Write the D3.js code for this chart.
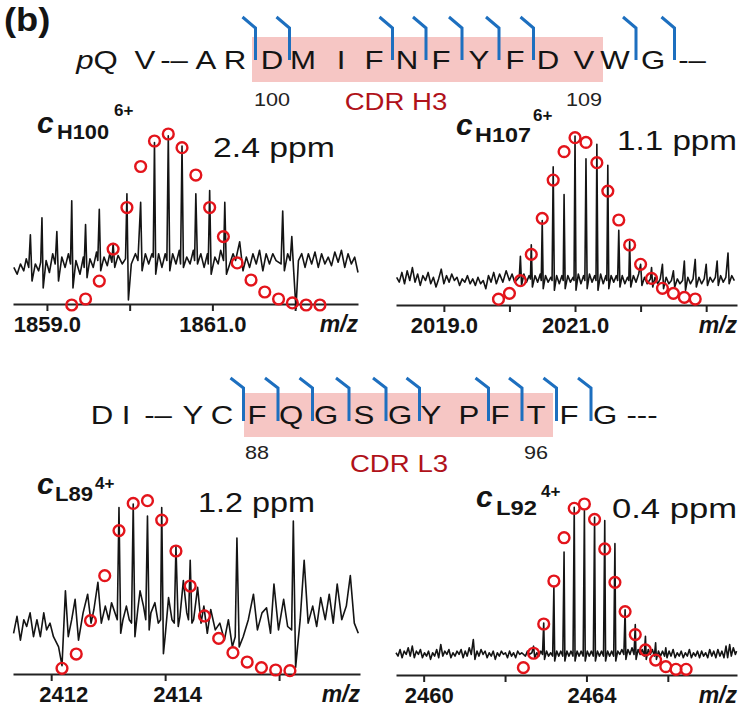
<!DOCTYPE html>
<html>
<head>
<meta charset="utf-8">
<title>Isotope fits of c fragments in CDR H3 / L3</title>
<script src="https://d3js.org/d3.v7.min.js"></script>
<style>
  body { margin: 0; background: #fff; }
  svg text { font-family: "Liberation Sans", Arial, sans-serif; }
</style>
</head>
<body>
<svg id="fig" width="747" height="711"></svg>
<script>
// ---------- sequences ----------
const seqH3 = ["pQ", "V", "-–", "A", "R", "D", "M", "I", "F", "N", "F", "Y", "F", "D", "V", "W", "G", "-–"];
const cutsH3 = [4, 5, 8, 9, 10, 11, 12, 15, 16];
const cdrH3 = [5, 14];
const numsH3 = [[5, "100"], [14, "109"]];

const seqL3 = ["D", "I", "-–", "Y", "C", "F", "Q", "G", "S", "G", "Y", "P", "F", "T", "F", "G", "---"];
const cutsL3 = [4, 5, 6, 7, 8, 9, 11, 12, 13, 14];
const cdrL3 = [5, 13];
const numsL3 = [[5, "88"], [13, "96"]];

// ---------- cH100 6+ ----------
const h100Domain = [1858.59, 1862.76];
const h100Ticks = [1859, 1860, 1861, 1862];
const h100Labelled = [1859, 1861];
const h100IsoMz = [1859.300, 1859.467, 1859.633, 1859.800, 1859.967, 1860.133, 1860.300, 1860.467, 1860.633, 1860.800,
  1860.967, 1861.133, 1861.300, 1861.467, 1861.633, 1861.800, 1861.967, 1862.133, 1862.300];
const h100IsoAb = [0, 3.5, 14, 32.7, 57, 81, 95.9, 100, 92, 76, 57, 40, 24.6, 14.6, 7.6, 3.5, 1.2, 0, 0];
const h100Spec = [
  [1858.60, 22], [1858.64, 18], [1858.68, 24], [1858.72, 20], [1858.75, 27], [1858.78, 22], [1858.80, 41], [1858.82, 14],
  [1858.86, 24], [1858.90, 20], [1858.925, 25], [1858.94, 51], [1858.955, 10], [1858.99, 26], [1859.03, 19], [1859.07, 30],
  [1859.10, 24], [1859.12, 43], [1859.14, 14], [1859.18, 28], [1859.22, 22], [1859.26, 30], [1859.285, 24], [1859.30, 61],
  [1859.315, 10], [1859.35, 26], [1859.40, 18], [1859.44, 28], [1859.45, 22], [1859.467, 47], [1859.485, 16], [1859.52, 27],
  [1859.56, 22], [1859.60, 31], [1859.615, 26], [1859.633, 56], [1859.65, 20], [1859.69, 28], [1859.73, 23], [1859.76, 30],
  [1859.785, 25], [1859.80, 36], [1859.82, 22], [1859.86, 29], [1859.91, 24], [1859.95, 27], [1859.967, 65], [1859.985, 3],
  [1860.02, 24], [1860.07, 30], [1860.10, 26], [1860.133, 60], [1860.15, 20], [1860.19, 30], [1860.23, 24], [1860.27, 30],
  [1860.285, 28], [1860.30, 95], [1860.315, 18], [1860.35, 30], [1860.39, 22], [1860.43, 30], [1860.45, 26], [1860.467, 99],
  [1860.485, 20], [1860.52, 30], [1860.56, 24], [1860.60, 32], [1860.615, 24], [1860.633, 93], [1860.65, 22], [1860.69, 28],
  [1860.73, 24], [1860.77, 32], [1860.785, 26], [1860.80, 65], [1860.82, 24], [1860.86, 30], [1860.90, 22], [1860.94, 30],
  [1860.95, 24], [1860.967, 67], [1860.985, 18], [1861.03, 28], [1861.07, 24], [1861.10, 32], [1861.135, 26], [1861.15, 60],
  [1861.17, 18], [1861.21, 24], [1861.25, 30], [1861.28, 26], [1861.33, 37], [1861.37, 20], [1861.41, 28], [1861.45, 22],
  [1861.49, 30], [1861.53, 24], [1861.57, 32], [1861.61, 20], [1861.65, 30], [1861.69, 24], [1861.73, 30], [1861.77, 26],
  [1861.83, 24], [1861.85, 55], [1861.87, 20], [1861.91, 30], [1861.94, 26], [1861.96, 40], [1861.98, 22], [1862.01, -2],
  [1862.04, 26], [1862.08, 30], [1862.12, 22], [1862.16, 30], [1862.20, 24], [1862.24, 31], [1862.28, 22], [1862.32, 30],
  [1862.36, 24], [1862.40, 28], [1862.44, 23], [1862.48, 31], [1862.52, 25], [1862.56, 32], [1862.60, 22], [1862.64, 30],
  [1862.68, 24], [1862.72, 28], [1862.76, 19]
];

// ---------- cH107 6+ ----------
const h107Domain = [2018.27, 2023.47];
const h107Ticks = [2019, 2020, 2021, 2022, 2023];
const h107Labelled = [2019, 2021];
const h107IsoMz = [2019.833, 2020.000, 2020.167, 2020.333, 2020.500, 2020.667, 2020.833, 2021.000, 2021.167, 2021.333,
  2021.500, 2021.667, 2021.833, 2022.000, 2022.167, 2022.333, 2022.500, 2022.667, 2022.833];
const h107IsoAb = [0.5, 4.1, 11.9, 28.1, 50.3, 73.9, 91.4, 100, 97.1, 84.6, 67.1, 49.3, 33.9, 22, 13.3, 7.2, 4.1, 1.6, 0.6];
const h107Spec = [
  [2018.28, 14], [2018.32, 11], [2018.36, 17], [2018.40, 10], [2018.44, 18], [2018.48, 12], [2018.52, 20], [2018.56, 11],
  [2018.60, 16], [2018.64, 9], [2018.68, 15], [2018.72, 12], [2018.76, 17], [2018.80, 10], [2018.84, 14], [2018.88, 8],
  [2018.92, 13], [2018.96, 19], [2019.00, 10], [2019.04, 15], [2019.08, 11], [2019.12, 16], [2019.16, 12], [2019.20, 14],
  [2019.24, 9], [2019.28, 13], [2019.32, 11], [2019.36, 15], [2019.40, 10], [2019.44, 13], [2019.48, 9], [2019.52, 14],
  [2019.56, 10], [2019.60, 12], [2019.64, 7], [2019.68, 15], [2019.72, 11], [2019.76, 17], [2019.80, 10], [2019.85, 16],
  [2019.90, 11], [2019.95, 18], [2020.00, 12], [2020.04, 16], [2020.08, 11], [2020.15, 14], [2020.167, 27], [2020.185, 9],
  [2020.22, 16], [2020.26, 11], [2020.30, 15], [2020.32, 13], [2020.333, 34], [2020.35, 8], [2020.39, 15], [2020.43, 11],
  [2020.47, 16], [2020.485, 12], [2020.500, 49], [2020.515, 7], [2020.55, 15], [2020.59, 11], [2020.63, 14], [2020.65, 12],
  [2020.667, 82], [2020.685, 6], [2020.72, 15], [2020.76, 10], [2020.80, 15], [2020.82, 12], [2020.833, 65], [2020.85, 7],
  [2020.89, 15], [2020.93, 11], [2020.97, 14], [2020.985, 12], [2021.000, 101], [2021.015, 6], [2021.05, 16], [2021.09, 10],
  [2021.13, 15], [2021.15, 12], [2021.167, 87], [2021.185, 7], [2021.22, 16], [2021.26, 11], [2021.30, 15], [2021.32, 12],
  [2021.333, 96], [2021.35, 6], [2021.39, 16], [2021.43, 10], [2021.47, 15], [2021.485, 12], [2021.500, 83], [2021.515, 7],
  [2021.55, 15], [2021.59, 11], [2021.63, 15], [2021.65, 12], [2021.667, 43], [2021.685, 8], [2021.72, 15], [2021.76, 10],
  [2021.80, 14], [2021.82, 12], [2021.833, 36], [2021.85, 8], [2021.89, 15], [2021.93, 11], [2021.97, 16], [2022.000, 22],
  [2022.02, 9], [2022.06, 14], [2022.10, 10], [2022.15, 13], [2022.167, 20], [2022.185, 8], [2022.22, 14], [2022.26, 10],
  [2022.30, 13], [2022.333, 22], [2022.35, 7], [2022.39, 14], [2022.43, 10], [2022.47, 12], [2022.500, 18], [2022.52, 8],
  [2022.56, 13], [2022.60, 10], [2022.64, 12], [2022.667, 24], [2022.685, 6], [2022.72, 14], [2022.76, 10], [2022.80, 13],
  [2022.833, 25], [2022.85, 8], [2022.89, 14], [2022.93, 10], [2022.97, 13], [2023.000, 22], [2023.02, 9], [2023.06, 14],
  [2023.10, 11], [2023.14, 14], [2023.167, 24], [2023.185, 9], [2023.22, 15], [2023.26, 11], [2023.30, 14], [2023.333, 29],
  [2023.35, 10], [2023.39, 15], [2023.43, 12]
];

// ---------- cL89 4+ ----------
const l89Domain = [2411.33, 2417.42];
const l89Ticks = [2412, 2414, 2416];
const l89Labelled = [2412, 2414];
const l89IsoMz = [2412.19, 2412.44, 2412.69, 2412.94, 2413.19, 2413.44, 2413.69, 2413.94, 2414.19, 2414.44,
  2414.69, 2414.94, 2415.19, 2415.44, 2415.69, 2415.94, 2416.19];
const l89IsoAb = [1.4, 9.8, 29.4, 55.9, 82.4, 98.4, 100, 88.6, 70.4, 49.8, 32.2, 19, 10.6, 5.1, 1.8, 0.4, 0];
const l89Spec = [
  [2411.34, 22], [2411.40, 32], [2411.46, 18], [2411.52, 30], [2411.57, 26], [2411.63, 34], [2411.69, 20], [2411.75, 30],
  [2411.81, 20], [2411.87, 34], [2411.92, 24], [2411.98, 28], [2412.04, 20], [2412.13, 14], [2412.19, 3], [2412.25, 47],
  [2412.30, 20], [2412.36, 30], [2412.42, 42], [2412.48, 18], [2412.56, 34], [2412.64, 45], [2412.70, 28], [2412.75, 36],
  [2412.82, 52], [2412.88, 28], [2412.95, 38], [2413.01, 30], [2413.06, 40], [2413.12, 34], [2413.16, 30], [2413.19, 96],
  [2413.22, 22], [2413.26, 30], [2413.32, 38], [2413.37, 30], [2413.41, 28], [2413.44, 98], [2413.47, 20], [2413.52, 36],
  [2413.56, 47], [2413.62, 38], [2413.66, 30], [2413.69, 91], [2413.72, 24], [2413.75, 34], [2413.82, 40], [2413.88, 28],
  [2413.92, 30], [2413.94, 96], [2413.97, 10], [2414.00, 20], [2414.06, 43], [2414.12, 30], [2414.16, 28], [2414.19, 73],
  [2414.23, 26], [2414.26, 32], [2414.32, 53], [2414.38, 34], [2414.41, 30], [2414.44, 65], [2414.47, 28], [2414.50, 30],
  [2414.57, 49], [2414.63, 28], [2414.68, 38], [2414.74, 22], [2414.80, 36], [2414.88, 24], [2414.96, 28], [2415.04, 18],
  [2415.11, 30], [2415.18, 14], [2415.23, 20], [2415.26, 78], [2415.30, 14], [2415.37, 20], [2415.46, 30], [2415.55, 45],
  [2415.62, 24], [2415.70, 34], [2415.78, 37], [2415.85, 22], [2415.91, 51], [2415.99, 24], [2416.08, 42], [2416.15, 26],
  [2416.22, 24], [2416.25, 88], [2416.29, 2], [2416.37, 30], [2416.44, 65], [2416.51, 28], [2416.59, 38], [2416.66, 26],
  [2416.73, 43], [2416.81, 30], [2416.88, 45], [2416.95, 28], [2417.02, 51], [2417.10, 30], [2417.18, 38], [2417.25, 56],
  [2417.32, 28], [2417.39, 22]
];

// ---------- cL92 4+ ----------
const l92Domain = [2459.32, 2467.70];
const l92Ticks = [2460, 2462, 2464, 2466];
const l92Labelled = [2460, 2464];
const l92IsoMz = [2462.45, 2462.70, 2462.95, 2463.20, 2463.45, 2463.70, 2463.95, 2464.20, 2464.45, 2464.70,
  2464.95, 2465.20, 2465.45, 2465.70, 2465.95, 2466.20, 2466.45];
const l92IsoAb = [1, 9.7, 27.4, 53.4, 79.6, 97.4, 100, 90.7, 72.8, 52.6, 34.9, 21, 11.7, 5.6, 1.6, 0, 0];
const l92Spec = [
  [2459.32, 10], [2459.37, 8], [2459.42, 12], [2459.47, 7], [2459.52, 11], [2459.57, 9], [2459.62, 13], [2459.67, 8],
  [2459.72, 14], [2459.77, 7], [2459.82, 11], [2459.87, 9], [2459.92, 12], [2459.97, 7], [2460.02, 10], [2460.07, 8],
  [2460.12, 11], [2460.17, 6], [2460.22, 10], [2460.27, 8], [2460.32, 12], [2460.37, 7], [2460.42, 15], [2460.47, 8],
  [2460.52, 11], [2460.57, 9], [2460.62, 12], [2460.67, 7], [2460.72, 10], [2460.77, 8], [2460.82, 11], [2460.87, 9],
  [2460.92, 12], [2460.97, 7], [2461.02, 11], [2461.07, 8], [2461.12, 13], [2461.17, 9], [2461.22, 18], [2461.26, 6],
  [2461.31, 11], [2461.36, 8], [2461.41, 12], [2461.46, 9], [2461.51, 11], [2461.56, 7], [2461.61, 10], [2461.66, 8],
  [2461.71, 11], [2461.76, 6], [2461.81, 10], [2461.86, 8], [2461.91, 11], [2461.96, 9], [2462.01, 10], [2462.06, 7],
  [2462.11, 11], [2462.16, 8], [2462.21, 10], [2462.26, 7], [2462.31, 11], [2462.36, 9], [2462.41, 10], [2462.50, 8],
  [2462.55, 11], [2462.60, 9], [2462.66, 10], [2462.70, 14], [2462.73, 7], [2462.78, 10], [2462.83, 8], [2462.88, 11],
  [2462.92, 9], [2462.95, 28], [2462.97, 6], [2463.02, 11], [2463.07, 8], [2463.12, 10], [2463.17, 8], [2463.20, 50],
  [2463.22, 5], [2463.27, 11], [2463.32, 8], [2463.37, 11], [2463.42, 8], [2463.45, 71], [2463.47, 5], [2463.52, 11],
  [2463.57, 8], [2463.62, 11], [2463.67, 8], [2463.70, 98], [2463.72, 5], [2463.77, 11], [2463.82, 8], [2463.87, 11],
  [2463.92, 8], [2463.95, 96], [2463.97, 5], [2464.02, 11], [2464.07, 8], [2464.12, 11], [2464.17, 8], [2464.20, 92],
  [2464.22, 5], [2464.27, 11], [2464.32, 8], [2464.37, 11], [2464.42, 8], [2464.45, 90], [2464.47, 5], [2464.52, 11],
  [2464.57, 8], [2464.62, 11], [2464.67, 8], [2464.70, 76], [2464.72, 5], [2464.77, 11], [2464.82, 9], [2464.87, 12],
  [2464.92, 9], [2464.95, 36], [2464.97, 6], [2465.02, 12], [2465.07, 9], [2465.12, 13], [2465.17, 9], [2465.20, 27],
  [2465.22, 6], [2465.27, 12], [2465.32, 9], [2465.37, 12], [2465.42, 8], [2465.45, 20], [2465.47, 6], [2465.52, 12],
  [2465.57, 9], [2465.62, 12], [2465.67, 8], [2465.70, 16], [2465.72, 6], [2465.77, 11], [2465.82, 8], [2465.87, 11],
  [2465.92, 8], [2465.95, 13], [2465.98, 7], [2466.03, 11], [2466.08, 8], [2466.13, 12], [2466.18, 7], [2466.23, 10],
  [2466.28, 8], [2466.33, 11], [2466.38, 7], [2466.43, 10], [2466.48, 8], [2466.53, 12], [2466.58, 7], [2466.63, 10],
  [2466.68, 8], [2466.73, 11], [2466.78, 7], [2466.83, 11], [2466.88, 8], [2466.93, 10], [2466.98, 7], [2467.03, 12],
  [2467.08, 8], [2467.13, 11], [2467.18, 7], [2467.23, 12], [2467.28, 8], [2467.33, 11], [2467.38, 7], [2467.43, 14],
  [2467.47, 7], [2467.52, 15], [2467.56, 8], [2467.61, 13], [2467.66, 9], [2467.69, 11]
];

// ---------- layout ----------
const RED = "#e3141b", BLUE = "#1d6fbf", PINK = "#f6c6c4", DARKRED = "#b0121a", INK = "#141414";
const svg = d3.select("#fig");
svg.append("rect").attr("width", 747).attr("height", 711).attr("fill", "#fff");

// horizontally stretched text helper
function stext(x, y, str, size, o = {}) {
  return svg.append("text")
    .attr("transform", `translate(${x},${y}) scale(${o.sx || 1},1)`)
    .attr("text-anchor", o.anchor || "middle")
    .attr("font-size", size)
    .attr("font-weight", o.weight || "normal")
    .attr("font-style", o.style || "normal")
    .attr("font-family", o.family || null)
    .attr("fill", o.fill || INK)
    .text(str);
}

stext(4, 31, "(b)", 33, { anchor: "start", weight: "bold", sx: 1.1 });

function drawSequence(seq, xs, cuts, cdr, nums, cdrLabel, L) {
  // CDR box
  svg.append("rect")
    .attr("x", xs[cdr[0]] - L.padL).attr("y", L.boxTop)
    .attr("width", xs[cdr[1]] - xs[cdr[0]] + L.padL + L.padR)
    .attr("height", L.boxBottom - L.boxTop)
    .attr("fill", PINK);
  // residues
  seq.forEach((r, i) => {
    const t = stext(xs[i], L.base, "", 26, { sx: 1.2 });
    if (r === "pQ") {
      t.append("tspan").attr("font-style", "italic").text("p");
      t.append("tspan").text("Q");
    } else t.text(r);
  });
  // cleavage markers
  cuts.forEach(i => {
    const xm = (xs[i] + xs[i + 1]) / 2 + L.cutDx;
    svg.append("path")
      .attr("d", `M${xm - 13},${L.mTop}L${xm},${L.mBend}L${xm},${L.mBottom}`)
      .attr("fill", "none").attr("stroke", BLUE).attr("stroke-width", 3);
  });
  nums.forEach(([i, s]) => stext(xs[i], L.numBase, s, 18,
    { sx: 1.2, family: "'Liberation Serif', 'Times New Roman', serif", fill: "#222" }));
  stext(L.cdrX, L.cdrBase, cdrLabel, 24, { sx: 1.15, fill: DARKRED });
}

drawSequence(seqH3,
  [97, 145, 174, 206, 235, 272, 303, 341, 374, 407, 441, 479, 515, 548, 584, 615, 653, 692],
  cutsH3, cdrH3, numsH3, "CDR H3",
  { base: 69, boxTop: 37, boxBottom: 82, padL: 20, padR: 19, mTop: 17, mBend: 28, mBottom: 60, cutDx: 2,
    numBase: 106, cdrX: 396, cdrBase: 110 });

drawSequence(seqL3,
  [102, 126, 158, 193, 222, 257, 291, 326, 364, 400, 431, 469, 500, 536, 569, 605, 642],
  cutsL3, cdrL3, numsL3, "CDR L3",
  { base: 424, boxTop: 393, boxBottom: 437, padL: 13, padR: 17, mTop: 378, mBend: 388, mBottom: 421, cutDx: 4,
    numBase: 459, cdrX: 399, cdrBase: 472 });

// ---------- spectra ----------
const panels = [
  { domain: h100Domain, ticks: h100Ticks, labelled: h100Labelled, fmt: d3.format(".1f"), spec: h100Spec,
    isoMz: h100IsoMz, isoAb: h100IsoAb, ion: "H100", z: "6+", ppm: "2.4 ppm",
    xr: [13, 358], axisY: 304, yr: [305, 134], labelDx: 0,
    cX: 37, cY: 133, subX: 57, subY: 139, subW: 52, supX: 114, supY: 116, ppmX: 213, ppmY: 157, ppmW: 122 },
  { domain: h107Domain, ticks: h107Ticks, labelled: h107Labelled, fmt: d3.format(".1f"), spec: h107Spec,
    isoMz: h107IsoMz, isoAb: h107IsoAb, ion: "H107", z: "6+", ppm: "1.1 ppm",
    xr: [396, 737], axisY: 305, yr: [300, 137.7], labelDx: 0,
    cX: 456, cY: 135, subX: 475, subY: 142, subW: 56, supX: 533, supY: 121, ppmX: 617, ppmY: 150, ppmW: 120 },
  { domain: l89Domain, ticks: l89Ticks, labelled: l89Labelled, fmt: d3.format("d"), spec: l89Spec,
    isoMz: l89IsoMz, isoAb: l89IsoAb, ion: "L89", z: "4+", ppm: "1.2 ppm",
    xr: [13, 360], axisY: 674, yr: [670.7, 500.7], labelDx: 12,
    cX: 37, cY: 494, subX: 55, subY: 501, subW: 38, supX: 95, supY: 489, ppmX: 198, ppmY: 512, ppmW: 117 },
  { domain: l92Domain, ticks: l92Ticks, labelled: l92Labelled, fmt: d3.format("d"), spec: l92Spec,
    isoMz: l92IsoMz, isoAb: l92IsoAb, ion: "L92", z: "4+", ppm: "0.4 ppm",
    xr: [396, 737], axisY: 675, yr: [669.3, 504], labelDx: 5,
    cX: 476, cY: 507, subX: 496, subY: 515, subW: 41, supX: 541, supY: 497, ppmX: 612, ppmY: 518, ppmW: 125 }
];

panels.forEach(p => {
  const x = d3.scaleLinear().domain(p.domain).range(p.xr);
  const y = d3.scaleLinear().domain([0, 100]).range(p.yr);
  const g = svg.append("g");

  const ax = g.append("g")
    .attr("transform", `translate(0,${p.axisY})`)
    .call(d3.axisBottom(x).tickValues(p.ticks).tickSize(7).tickSizeOuter(0).tickPadding(5)
      .tickFormat(d => p.labelled.includes(d) ? p.fmt(d) : ""));
  ax.attr("font-family", "'Liberation Sans', Arial, sans-serif");
  ax.select(".domain").attr("stroke", "#222").attr("stroke-width", 2);
  ax.selectAll(".tick line").attr("stroke", "#222").attr("stroke-width", 2);
  ax.selectAll(".tick text").attr("font-size", 22).attr("font-weight", "bold")
    .attr("fill", INK).attr("dx", p.labelDx);

  g.append("text")
    .attr("x", p.xr[1]).attr("y", p.axisY + 28)
    .attr("text-anchor", "end").attr("font-size", 23).attr("font-style", "italic")
    .attr("font-weight", "bold").attr("fill", INK)
    .text("m/z");

  g.append("path").datum(p.spec)
    .attr("fill", "none").attr("stroke", INK).attr("stroke-width", 1.6).attr("stroke-linejoin", "round")
    .attr("d", d3.line().x(d => x(d[0])).y(d => y(d[1])));

  g.selectAll("circle").data(d3.zip(p.isoMz, p.isoAb)).join("circle")
    .attr("cx", d => x(d[0])).attr("cy", d => y(d[1])).attr("r", 5.4)
    .attr("fill", "none").attr("stroke", RED).attr("stroke-width", 2.4);

  // ion label: c, subscript, superscript charge
  g.append("text").attr("x", p.cX).attr("y", p.cY).attr("font-size", 30).attr("font-weight", "bold")
    .attr("font-style", "italic").attr("fill", INK).text("c");
  g.append("text").attr("x", p.subX).attr("y", p.subY).attr("font-size", 21).attr("font-weight", "bold")
    .attr("textLength", p.subW).attr("lengthAdjust", "spacingAndGlyphs").attr("fill", INK).text(p.ion);
  g.append("text").attr("x", p.supX).attr("y", p.supY).attr("font-size", 17).attr("font-weight", "bold")
    .attr("fill", INK).text(p.z);
  g.append("text").attr("x", p.ppmX).attr("y", p.ppmY).attr("font-size", 27).attr("fill", INK)
    .attr("textLength", p.ppmW).attr("lengthAdjust", "spacingAndGlyphs").text(p.ppm);
});
</script>
</body>
</html>
